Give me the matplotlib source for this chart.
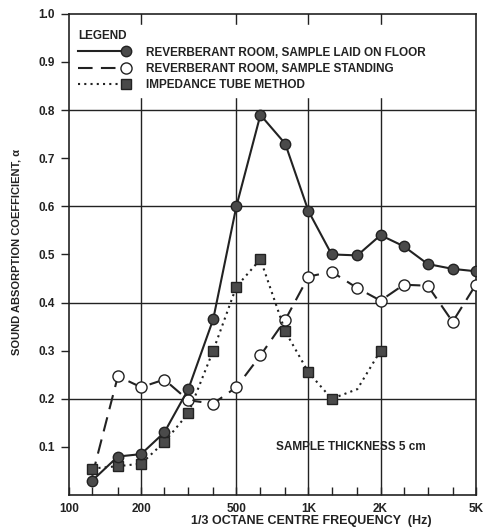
import numpy as np
import matplotlib.pyplot as plt
from matplotlib.ticker import FixedLocator, NullFormatter
from matplotlib.legend_handler import HandlerLine2D

plt.rcParams['font.family'] = ['Liberation Sans', 'DejaVu Sans']
plt.rcParams['font.weight'] = 'bold'
plt.rcParams['axes.labelweight'] = 'bold'

# 1/3 octave centre frequencies (Hz)
freqs = [125, 160, 200, 250, 315, 400, 500, 630, 800, 1000,
         1250, 1600, 2000, 2500, 3150, 4000, 5000]

# reverberant room, sample laid on floor
alpha_floor = [0.03, 0.08, 0.085, 0.13, 0.22, 0.365, 0.60, 0.79, 0.73, 0.59,
               0.50, 0.498, 0.54, 0.517, 0.48, 0.47, 0.465]

# reverberant room, sample standing
alpha_standing = [0.04, 0.247, 0.224, 0.24, 0.197, 0.19, 0.224, 0.29, 0.364, 0.454,
                  0.464, 0.43, 0.404, 0.437, 0.435, 0.36, 0.437]

# impedance tube method (125 Hz .. 2 kHz)
tube_freqs = [125, 160, 200, 250, 315, 400, 500, 630, 800, 1000, 1250, 1600, 2000]
alpha_tube = [0.055, 0.06, 0.065, 0.11, 0.17, 0.30, 0.433, 0.49, 0.34, 0.255,
              0.20, 0.22, 0.30]

major_ticks = [100, 200, 500, 1000, 2000, 5000]
major_labels = ['100', '200', '500', '1K', '2K', '5K']
y_ticks = [0.1, 0.2, 0.3, 0.4, 0.5, 0.6, 0.7, 0.8, 0.9, 1.0]
grid_y = [0.2, 0.4, 0.6, 0.8]

ink = '#222222'
fill = '#4a4a4a'


class MarkerAtEnd(HandlerLine2D):
    # legend key drawn as a line with the marker at its right end
    def create_artists(self, *args, **kwargs):
        arts = super().create_artists(*args, **kwargs)
        for a in arts:
            a.set_markevery([2])
        return arts


fig = plt.figure(figsize=(4.84, 5.32), dpi=100)
ax = fig.add_axes([0.1426, 0.0695, 0.8405, 0.9045])

ax.set_xscale('log')
ax.set_xlim(100, 5000)
ax.set_ylim(0, 1.0)

# grid
for g in major_ticks[1:-1]:
    ax.axvline(g, color=ink, lw=1.0, zorder=0)
for g in grid_y:
    ax.axhline(g, color=ink, lw=1.0, zorder=0)

ax.plot(freqs, alpha_standing, color=ink, lw=1.5, ls=(0, (7, 4)),
        marker='o', ms=8, mfc='white', mec=ink, mew=1.0,
        markevery=list(range(1, len(freqs))), zorder=3,
        label='REVERBERANT ROOM, SAMPLE STANDING')
ax.plot(tube_freqs, alpha_tube, color=ink, lw=1.5, ls=(0, (1, 2)),
        marker='s', ms=6.5, mfc=fill, mec=ink,
        markevery=[i for i in range(len(tube_freqs)) if tube_freqs[i] != 1600],
        zorder=4, label='IMPEDANCE TUBE METHOD')
ax.plot(freqs, alpha_floor, color=ink, lw=1.5, ls='-',
        marker='o', ms=7.5, mfc=fill, mec=ink, zorder=5,
        label='REVERBERANT ROOM, SAMPLE LAID ON FLOOR')

# axes styling
for s in ax.spines.values():
    s.set_color(ink)
    s.set_linewidth(1.2)

ax.xaxis.set_major_locator(FixedLocator(major_ticks))
ax.set_xticklabels(major_labels)
ax.xaxis.set_minor_locator(FixedLocator([f for f in freqs if f not in major_ticks]))
ax.xaxis.set_minor_formatter(NullFormatter())
ax.tick_params(axis='x', which='both', direction='in', length=6, width=1.0,
               color=ink, labelsize=8.5, labelcolor=ink, pad=6)

ax.set_yticks(y_ticks)
ax.set_yticklabels(['%.1f' % v for v in y_ticks])
ax.tick_params(axis='y', direction='out', length=6, width=1.0, color=ink,
               labelsize=8.5, labelcolor=ink, pad=4)

ax.set_xlabel('1/3 OCTANE CENTRE FREQUENCY  (Hz)', fontsize=9, color=ink)
ax.xaxis.set_label_coords(0.595, -0.042)
ax.set_ylabel('SOUND ABSORPTION COEFFICIENT, \u03b1', fontsize=8, color=ink)
ax.yaxis.set_label_coords(-0.118, 0.505)

ax.text(1500, 0.10, 'SAMPLE THICKNESS 5 cm', fontsize=8.5, color=ink,
        ha='center', va='center')

handles, labels = ax.get_legend_handles_labels()
order = [2, 0, 1]
leg = ax.legend([handles[i] for i in order], [labels[i] for i in order],
                title='LEGEND', loc='upper left', bbox_to_anchor=(0.0, 0.985),
                fontsize=8.5, title_fontsize=8.5, frameon=True, fancybox=False,
                edgecolor='white', facecolor='white', framealpha=1.0,
                handlelength=4.0, handletextpad=1.7, labelspacing=0.35,
                borderpad=0.5, borderaxespad=0.3, numpoints=1,
                handler_map={h: MarkerAtEnd() for h in handles})
leg._legend_box.align = 'left'
leg.get_title().set_color(ink)
leg.get_title().set_fontweight('bold')
for t in leg.get_texts():
    t.set_color(ink)
leg.set_zorder(6)

fig.savefig('out.png', dpi=100)
